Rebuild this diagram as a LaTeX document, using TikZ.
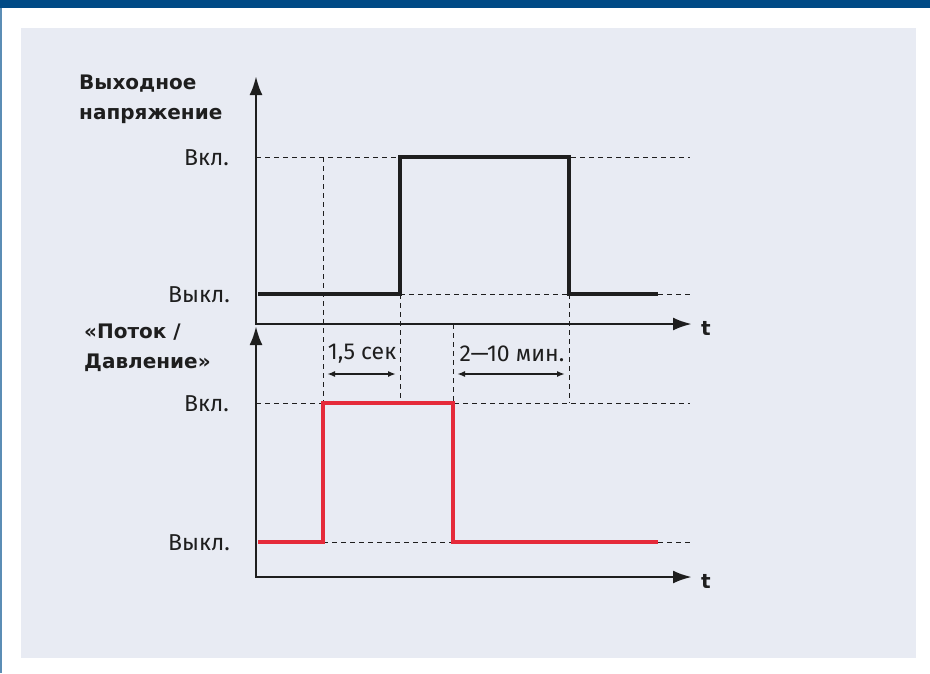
\documentclass[tikz,border=0pt]{standalone}
\usepackage{fontspec}
\setmainfont{Fira Sans}
\newfontfamily\headfont{DejaVu Sans}
\usetikzlibrary{arrows.meta}

\definecolor{barblue}{HTML}{004A86}
\definecolor{edgeblue}{HTML}{5B8DB5}
\definecolor{panelgray}{HTML}{E8EBF3}
\definecolor{inkgray}{HTML}{1E1E1E}
\definecolor{sigred}{HTML}{E52A3A}

\begin{document}
\begin{tikzpicture}[x=1pt,y=-1pt,
    every node/.style={text=inkgray,font=\fontsize{23}{28}\selectfont,inner sep=0},
    axis/.style={draw=inkgray,line width=2.8pt,line join=miter,
      {Latex[length=19pt,width=13pt]}-{Latex[length=19pt,width=13pt]}},
    sig/.style={line width=3.4pt,line join=miter},
    guide/.style={draw=inkgray,line width=0.9pt,dash pattern=on 5pt off 4pt},
    span/.style={draw=inkgray,line width=1.6pt,shorten <=4pt,shorten >=4pt,
      {Latex[length=8pt,width=6pt]}-{Latex[length=8pt,width=6pt]}},
    level/.style={anchor=base east},
    title/.style={anchor=north west,align=left,font=\headfont\fontsize{20}{28}\selectfont\bfseries}]
  \useasboundingbox (0,0) rectangle (930,673);
  % frame
  \fill[white] (0,0) rectangle (930,673);
  \fill[barblue] (0,0) rectangle (930,8);
  \fill[edgeblue] (0,8) rectangle (2,673);
  \fill[panelgray] (21,28) rectangle (916,658);

  % time marks and levels
  \coordinate (s) at (258,0);
  \coordinate (p) at (323,0);
  \coordinate (q) at (400,0);
  \coordinate (r) at (453,0);
  \coordinate (u) at (569,0);
  \coordinate (e) at (658,0);
  \coordinate (d) at (690,0);
  \coordinate (hi1) at (0,157);
  \coordinate (lo1) at (0,294);
  \coordinate (hi2) at (0,403);
  \coordinate (lo2) at (0,542);
  \coordinate (ar) at (0,374);

  % axes
  \coordinate (uy) at (256,76);
  \coordinate (ua) at (256,324);
  \coordinate (ux) at (692,324);
  \coordinate (ly) at (256,326);
  \coordinate (la) at (256,577);
  \coordinate (lx) at (692,577);

  % guides
  \draw[guide] (ua |- hi1) -- (d |- hi1);
  \draw[guide] (q |- lo1) -- (u |- lo1) (e |- lo1) -- (d |- lo1);
  \draw[guide] (la |- hi2) -- (d |- hi2);
  \draw[guide] (p |- lo2) -- (r |- lo2) (e |- lo2) -- (d |- lo2);
  \draw[guide] (p |- hi1) -- (p |- hi2);
  \draw[guide] (q |- lo1) -- (q |- hi2);
  \draw[guide] (r |- ua) -- (r |- hi2);
  \draw[guide] (u |- lo1) -- (u |- hi2);

  \draw[axis] (uy) -- (ua) -- (ux);
  \draw[axis] (ly) -- (la) -- (lx);

  % signals
  \draw[sig,draw=inkgray] (s |- lo1) -- (q |- lo1) -- (q |- hi1) -- (u |- hi1) -- (u |- lo1) -- (e |- lo1);
  \draw[sig,draw=sigred] (s |- lo2) -- (p |- lo2) -- (p |- hi2) -- (r |- hi2) -- (r |- lo2) -- (e |- lo2);

  % labels
  \node[title] (volt) at (79,75) {Выходное\\[2pt]напряжение};
  \node[title] (flow) at (84,324) {«Поток /\\[2pt]Давление»};
  \node[level] (on1) at (229,165) {Вкл.};
  \node[level] (off1) at (230,302) {Выкл.};
  \node[level] (on2) at (229,411) {Вкл.};
  \node[level] (off2) at (230,550) {Выкл.};
  \node[font=\headfont\fontsize{20}{26}\selectfont\bfseries] (ut) at (706,328) {t};
  \node[font=\headfont\fontsize{20}{26}\selectfont\bfseries] (lt) at (706,581) {t};

  % intervals
  \node (delay) at (362,354) {1,5 сек};
  \node (hold) at (512,354) {2—10 мин.};
  \draw[span] (p |- ar) -- (q |- ar);
  \draw[span] (r |- ar) -- (u |- ar);
\end{tikzpicture}
\end{document}
